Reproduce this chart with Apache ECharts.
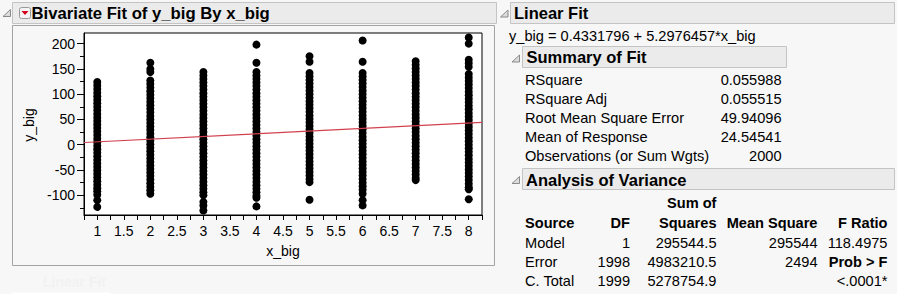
<!DOCTYPE html>
<html><head><meta charset="utf-8">
<script src="https://cdn.jsdelivr.net/npm/echarts@6/dist/echarts.min.js"></script>
<style>html,body{margin:0;padding:0;background:#f7f7f7}#c{width:897px;height:294px}</style>
</head><body><div id="c"></div><script>
// ---- data ----
const xLevels = [1, 2, 3, 4, 5, 6, 7, 8];
const yAt1 = [124, 117, 110, 103, 96, 89, 82, 75, 68, 61, 54, 47, 40, 33, 26, 19, 12, 5, -2, -9, -16, -23, -30, -37, -44, -51, -58, -65, -72, -79, -86, -92, -99, -110, -123];
const yAt2 = [162, 150, 144, 127, 120, 113, 106, 99, 92, 85, 78, 71, 64, 57, 50, 43, 36, 29, 22, 15, 8, 1, -6, -13, -20, -27, -34, -41, -48, -55, -62, -69, -76, -83, -90, -97];
const yAt3 = [144, 137, 130, 123, 116, 109, 102, 95, 88, 81, 74, 67, 60, 53, 46, 39, 32, 25, 18, 11, 4, -3, -10, -17, -24, -31, -38, -45, -52, -59, -66, -73, -80, -87, -94, -100, -113, -120, -130];
const yAt4 = [198, 162, 144, 137, 130, 123, 116, 109, 102, 95, 88, 81, 74, 67, 60, 53, 46, 39, 32, 25, 18, 11, 4, -3, -10, -17, -24, -31, -38, -45, -52, -59, -66, -73, -80, -87, -94, -101, -105, -122];
const yAt5 = [175, 164, 142, 135, 128, 121, 114, 107, 100, 93, 86, 79, 72, 65, 58, 51, 44, 37, 30, 23, 16, 9, 2, -5, -12, -19, -26, -33, -40, -47, -54, -61, -68, -74, -109];
const yAt6 = [206, 164, 142, 135, 128, 121, 114, 107, 100, 93, 86, 79, 72, 65, 58, 51, 44, 37, 30, 23, 16, 9, 2, -5, -12, -19, -26, -33, -40, -47, -54, -61, -68, -75, -82, -89, -97, -110, -120];
const yAt7 = [165, 158, 151, 144, 137, 130, 123, 116, 109, 102, 95, 88, 81, 74, 67, 60, 53, 46, 39, 32, 25, 18, 11, 4, -3, -10, -17, -24, -31, -38, -45, -52, -59, -66, -70];
const yAt8 = [212, 200, 168, 161, 154, 140, 133, 126, 119, 112, 105, 98, 91, 84, 77, 70, 63, 56, 49, 42, 35, 28, 21, 14, 7, 0, -7, -14, -21, -28, -35, -42, -49, -56, -63, -70, -77, -84, -88, -108];
const yByLevel = [yAt1, yAt2, yAt3, yAt4, yAt5, yAt6, yAt7, yAt8];

const fitLineX = [0.75, 8.25];
const fitLineY = [4.41, 44.14];

const xTickLabels = [1, 1.5, 2, 2.5, 3, 3.5, 4, 4.5, 5, 5.5, 6, 6.5, 7, 7.5, 8];
const xTickMarks = [0.75, 1, 1.25, 1.5, 1.75, 2, 2.25, 2.5, 2.75, 3, 3.25, 3.5, 3.75, 4, 4.25, 4.5, 4.75, 5, 5.25, 5.5, 5.75, 6, 6.25, 6.5, 6.75, 7, 7.25, 7.5, 7.75, 8, 8.25];
const yTickLabels = [-100, -50, 0, 50, 100, 150, 200];
const yMinorTicks = [-125, -75, -25, 25, 75, 125, 175];

const titleText = 'Bivariate Fit of y_big By x_big';
const fitTitle = 'Linear Fit';
const fitEquation = 'y_big = 0.4331796 + 5.2976457*x_big';
const summaryTitle = 'Summary of Fit';
const summaryLabels = ['RSquare', 'RSquare Adj', 'Root Mean Square Error', 'Mean of Response', 'Observations (or Sum Wgts)'];
const summaryValues = ['0.055988', '0.055515', '49.94096', '24.54541', '2000'];
const anovaTitle = 'Analysis of Variance';
const anovaHeadTop = ['', '', 'Sum of', '', ''];
const anovaHead = ['Source', 'DF', 'Squares', 'Mean Square', 'F Ratio'];
const anovaSource = ['Model', 'Error', 'C. Total'];
const anovaDF = ['1', '1998', '1999'];
const anovaSS = ['295544.5', '4983210.5', '5278754.9'];
const anovaMS = ['295544', '2494', ''];
const anovaLast = ['118.4975', 'Prob > F', '<.0001*'];
const anovaLastBold = [false, true, false];

// ---- build ----
const FF = "'Liberation Sans', Arial, sans-serif";
const BODY = 14.6;
const pts = [];
xLevels.forEach((x, i) => yByLevel[i].forEach(y => pts.push([x, y])));

const g = [];
function txt(x, y, s, opt) {
  opt = opt || {};
  g.push({type: 'text', x: x, y: y, rotation: opt.rot || 0, silent: true,
    style: {text: s, fill: opt.color || '#000', font: (opt.bold ? 'bold ' : '') + (opt.size || BODY) + 'px ' + FF,
      align: opt.align || 'left', verticalAlign: 'middle'}});
}
function rect(x, y, w, h, fill, stroke) {
  g.push({type: 'rect', silent: true, shape: {x: x, y: y, width: w, height: h},
    style: {fill: fill, stroke: stroke || null, lineWidth: 1}});
}
function tri(x, y) {
  g.push({type: 'polygon', silent: true, shape: {points: [[x, y + 7], [x + 7.5, y], [x + 7.5, y + 7]]},
    style: {fill: '#dcdcdc', stroke: '#8a8a8a', lineWidth: 1}});
}

// left panel
tri(3, 9.5);
rect(12.5, 2.5, 484, 21, '#ebebeb', '#c4c4c4');
g.push({type: 'rect', silent: true, shape: {x: 19.5, y: 7.5, width: 11, height: 11, r: 2}, style: {fill: '#f4f4f4', stroke: '#9a9a9a', lineWidth: 1}});
g.push({type: 'polygon', silent: true, shape: {points: [[21.5, 11], [28.5, 11], [25, 15]]}, style: {fill: '#d8001c'}});
txt(31.5, 13, titleText, {bold: true, size: 16.7});
rect(12.5, 25.5, 482, 240, 'none', '#a3a3a3');
txt(29, 125, 'y_big', {rot: Math.PI / 2, align: 'center', size: 14});
txt(283, 251, 'x_big', {align: 'center', size: 14});
txt(43, 282, fitTitle, {bold: true, size: 14, color: '#f2f2f2'});
rect(12.5, 292.5, 98, 3, '#ffffff', null);

// right panel
tri(500.5, 10);
rect(510.5, 2.5, 384, 21, '#ebebeb', '#c4c4c4');
txt(514, 13, fitTitle, {bold: true, size: 16.5});
txt(509, 36, fitEquation);
tri(512, 55);
rect(522.5, 46.5, 264, 21, '#ebebeb', '#c4c4c4');
txt(526.5, 57, summaryTitle, {bold: true, size: 16.5});
const sumY = [80, 99, 118, 137, 156];
summaryLabels.forEach((s, i) => { txt(525, sumY[i], s); txt(781.5, sumY[i], summaryValues[i], {align: 'right'}); });
tri(512, 176.5);
rect(522.5, 168.5, 372, 21, '#ebebeb', '#c4c4c4');
txt(526, 179.5, anovaTitle, {bold: true, size: 16.5});
txt(716.5, 202.5, anovaHeadTop[2], {bold: true, align: 'right'});
const colR = [525, 630, 716.5, 817.5, 887.5];
anovaHead.forEach((s, i) => txt(colR[i], 222.5, s, {bold: true, align: i === 0 ? 'left' : 'right'}));
const rowY = [242.5, 261.5, 280.5];
anovaSource.forEach((s, i) => {
  txt(colR[0], rowY[i], s);
  txt(colR[1], rowY[i], anovaDF[i], {align: 'right'});
  txt(colR[2], rowY[i], anovaSS[i], {align: 'right'});
  txt(colR[3], rowY[i], anovaMS[i], {align: 'right'});
  txt(colR[4], rowY[i], anovaLast[i], {align: 'right', bold: anovaLastBold[i]});
});

const chart = echarts.init(document.getElementById('c'), null, {renderer: 'svg'});
chart.setOption({
  backgroundColor: '#f7f7f7',
  animation: false,
  grid: {left: 84, top: 33, width: 398, height: 182, show: true, backgroundColor: '#ffffff', borderColor: '#000', borderWidth: 1},
  xAxis: [{
    type: 'value', min: 0.75, max: 8.25,
    splitLine: {show: false},
    axisLine: {show: true, onZero: false, lineStyle: {color: '#000'}},
    axisTick: {show: true, length: 5, lineStyle: {color: '#000'}, customValues: xTickMarks},
    axisLabel: {customValues: xTickLabels, color: '#000', fontSize: 14, fontFamily: FF, margin: 9, showMinLabel: true, showMaxLabel: true}
  }],
  yAxis: [{
    type: 'value', min: -139, max: 221,
    splitLine: {show: false},
    axisLine: {show: true, onZero: false, lineStyle: {color: '#000'}},
    axisTick: {show: true, length: 7, lineStyle: {color: '#000'}, customValues: yTickLabels},
    axisLabel: {customValues: yTickLabels, color: '#000', fontSize: 14, fontFamily: FF, margin: 9}
  }, {
    type: 'value', min: -139, max: 221, position: 'left',
    splitLine: {show: false},
    axisLine: {show: false},
    axisTick: {show: true, length: 4, lineStyle: {color: '#000'}, customValues: yMinorTicks},
    axisLabel: {show: false}
  }],
  series: [{
    type: 'scatter', data: pts, symbol: 'circle', symbolSize: 8,
    itemStyle: {color: '#000', opacity: 1}, silent: true, z: 2
  }, {
    type: 'line', data: [[fitLineX[0], fitLineY[0]], [fitLineX[1], fitLineY[1]]],
    symbol: 'none', lineStyle: {color: '#d2404f', width: 1.2}, silent: true, z: 3
  }],
  graphic: g
});
</script></body></html>
